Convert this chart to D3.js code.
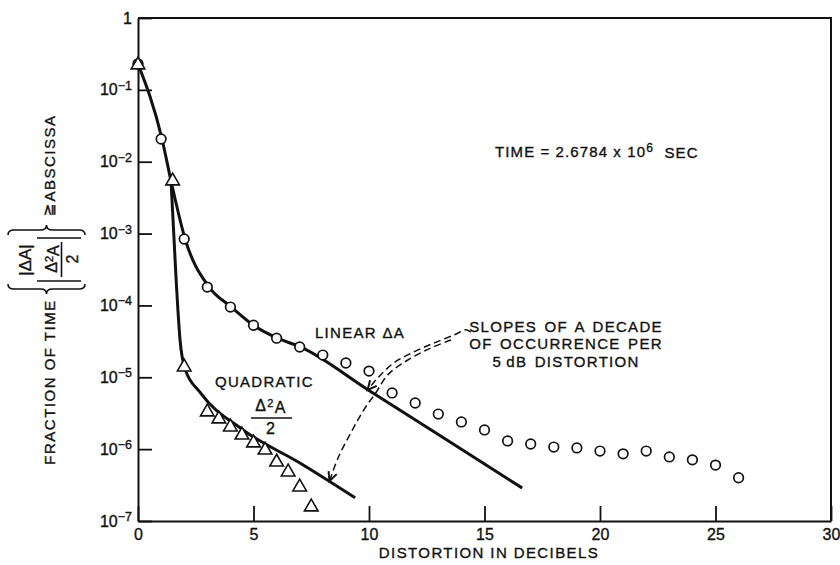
<!DOCTYPE html>
<html><head><meta charset="utf-8">
<script src="https://cdn.jsdelivr.net/npm/d3@7"></script>
<style>
html,body{margin:0;padding:0;background:#fff;}
svg{display:block;font-family:"Liberation Sans",Arial,Helvetica,sans-serif;}
svg text{stroke:#111;stroke-width:0.35px;}
</style></head><body>
<svg id="chart" width="840" height="565"></svg>
<script>
// ---------- data ----------
const xTickValues = [0, 5, 10, 15, 20, 25, 30];
const yTickValues = [1, 1e-1, 1e-2, 1e-3, 1e-4, 1e-5, 1e-6, 1e-7];

// measured points: LINEAR ΔA (circles)
const linearX = [0, 1, 2, 3, 4, 5, 6, 7, 8, 9, 10, 11, 12, 13, 14, 15, 16, 17, 18, 19, 20, 21, 22, 23, 24, 25, 26];
const linearY = [0.23, 0.0207, 8.4e-4, 1.8e-4, 9.5e-5, 5.3e-5, 3.5e-5, 2.64e-5, 2.04e-5, 1.58e-5, 1.22e-5,
                 6.05e-6, 4.39e-6, 3.08e-6, 2.39e-6, 1.85e-6, 1.3e-6, 1.18e-6, 1.07e-6, 1.04e-6, 9.4e-7,
                 8.6e-7, 9.4e-7, 7.8e-7, 7.1e-7, 6.0e-7, 4.0e-7];

// measured points: QUADRATIC Δ²A/2 (triangles)
const quadX = [0, 1.5, 2, 3, 3.5, 4, 4.5, 5, 5.5, 6, 6.5, 7, 7.5];
const quadY = [0.222, 5.4e-3, 1.39e-5, 3.29e-6, 2.63e-6, 2.03e-6, 1.57e-6, 1.22e-6, 9.7e-7, 6.6e-7, 4.8e-7, 2.97e-7, 1.57e-7];

// fitted curves (solid lines)
const linearFitX = [0, 1.04, 1.43, 2.04, 3.08, 4.04, 5.0, 6.04, 7.03, 10, 13, 16.63];
const linearFitY = [0.23, 0.0207, 5.4e-3, 8.4e-4, 1.8e-4, 9.5e-5, 5.3e-5, 3.5e-5, 2.64e-5, 6.55e-6, 1.6e-6, 2.88e-7];
const quadFitX = [1.43, 1.65, 1.82, 2.04, 2.68, 4.55, 7.01, 9.4];
const quadFitY = [5.4e-3, 2.3e-4, 3.3e-5, 1.3e-5, 6.2e-6, 1.85e-6, 6.4e-7, 2.1e-7];

// dashed annotation arrows (data units)
const arrowLinearX = [14.4, 14.2, 13.68, 12.81, 11.94, 11.07, 10.38, 9.94];
const arrowLinearY = [4.25e-5, 4.6e-5, 3.88e-5, 3.0e-5, 2.25e-5, 1.58e-5, 9.8e-6, 6.65e-6];
const arrowQuadX = [13.55, 12.68, 11.68, 10.81, 10.29, 9.77, 9.21, 8.68, 8.29];
const arrowQuadY = [3.3e-5, 2.56e-5, 1.74e-5, 1.08e-5, 6.05e-6, 3.5e-6, 1.68e-6, 7.8e-7, 3.6e-7];

// ---------- drawing ----------
const svg = d3.select("#chart");
const ink = "#111";
const x = d3.scaleLinear().domain([0, 30]).range([138, 831]);
const y = d3.scaleLog().domain([1e-7, 1]).range([521, 18]);

// frame (top & right)
svg.append("path")
  .attr("d", `M${x(0)},${y(1)}H${x(30)}V${y(1e-7)}`)
  .attr("fill", "none").attr("stroke", ink).attr("stroke-width", 2);

// x axis
const gx = svg.append("g").attr("transform", `translate(0,${y(1e-7)})`)
  .call(d3.axisBottom(x).tickValues(xTickValues).tickSizeInner(-15).tickSizeOuter(0)
        .tickPadding(8).tickFormat(d3.format("d")));
gx.select(".domain").attr("stroke", ink).attr("stroke-width", 2);
gx.selectAll(".tick line").attr("stroke", ink).attr("stroke-width", 1.8);
gx.selectAll(".tick text").attr("font-size", 16).attr("fill", ink).attr("font-family", null);

// y axis
const gy = svg.append("g").attr("transform", `translate(${x(0)},0)`)
  .call(d3.axisLeft(y).tickValues(yTickValues).tickSizeInner(-14).tickSizeOuter(0)
        .tickPadding(6).tickFormat(() => ""));
gy.select(".domain").attr("stroke", ink).attr("stroke-width", 2);
gy.selectAll(".tick line").attr("stroke", ink).attr("stroke-width", 1.8);
gy.selectAll(".tick text").attr("font-size", 16).attr("fill", ink).attr("font-family", null)
  .each(function (d) {
    const e = Math.round(Math.log10(d));
    const t = d3.select(this);
    if (e === 0) { t.text("1"); return; }
    t.append("tspan").text("10");
    t.append("tspan").attr("dy", "-0.45em").attr("font-size", 12.5).text("\u2212" + (-e));
  });

// axis title x
svg.append("text").attr("x", 489).attr("y", 558).attr("text-anchor", "middle")
  .attr("font-size", 15).attr("letter-spacing", "1.4px").attr("fill", ink)
  .text("DISTORTION IN DECIBELS");

// y axis title (rotated, composite)
const yl = svg.append("g").attr("transform", "rotate(-90)").attr("fill", ink);
yl.append("text").attr("x", -382).attr("y", 55).attr("text-anchor", "middle")
  .attr("font-size", 15).attr("letter-spacing", "1.5px").text("FRACTION OF TIME");
yl.append("text").attr("x", -158).attr("y", 55).attr("text-anchor", "middle")
  .attr("font-size", 15).attr("letter-spacing", "1.5px").text("ABSCISSA");
yl.append("text").attr("x", -210).attr("y", 54).attr("text-anchor", "middle")
  .attr("font-size", 15).attr("font-family", "DejaVu Sans").text("\u2267");
yl.append("text").attr("x", -260).attr("y", 31).attr("text-anchor", "middle")
  .attr("font-size", 17).text("|\u0394A|");
const dl = yl.append("text").attr("x", -259).attr("y", 57).attr("text-anchor", "middle").attr("font-size", 16);
dl.append("tspan").text("\u0394");
dl.append("tspan").attr("dy", "-0.4em").attr("font-size", 11).text("2");
dl.append("tspan").attr("dy", "0.4em").text("A");
yl.append("line").attr("x1", -277).attr("x2", -242).attr("y1", 61.5).attr("y2", 61.5)
  .attr("stroke", ink).attr("stroke-width", 1.6);
yl.append("text").attr("x", -259).attr("y", 78).attr("text-anchor", "middle")
  .attr("font-size", 16).text("2");
[-238, -281].forEach(v => yl.append("line").attr("x1", v).attr("x2", v).attr("y1", 37).attr("y2", 81)
  .attr("stroke", ink).attr("stroke-width", 1.6));
function bracePath(base, dir, a, b, h, r) {
  const m = (a + b) / 2, o = k => base + dir * k;
  return `M${o(0)},${a}Q${o(h)},${a} ${o(h)},${a + r}L${o(h)},${m - r}Q${o(h)},${m} ${o(2 * h)},${m}` +
         `Q${o(h)},${m} ${o(h)},${m + r}L${o(h)},${b - r}Q${o(h)},${b} ${o(0)},${b}`;
}
yl.append("path").attr("d", bracePath(-235, 1, 8, 85, 5, 6))
  .attr("fill", "none").attr("stroke", ink).attr("stroke-width", 1.6);
yl.append("path").attr("d", bracePath(-284, -1, 8, 85, 5, 6))
  .attr("fill", "none").attr("stroke", ink).attr("stroke-width", 1.6);

// fitted curves
const lineGen = d3.line().x(d => x(d[0])).y(d => y(d[1])).curve(d3.curveMonotoneX);
svg.append("path").datum(d3.zip(linearFitX, linearFitY)).attr("d", lineGen)
  .attr("fill", "none").attr("stroke", ink).attr("stroke-width", 3);
svg.append("path").datum(d3.zip(quadFitX, quadFitY)).attr("d", lineGen)
  .attr("fill", "none").attr("stroke", ink).attr("stroke-width", 3);

// dashed arrows
const dashGen = d3.line().x(d => x(d[0])).y(d => y(d[1])).curve(d3.curveCatmullRom);
function arrow(xs, ys) {
  const pts = d3.zip(xs, ys);
  svg.append("path").datum(pts).attr("d", dashGen)
    .attr("fill", "none").attr("stroke", ink).attr("stroke-width", 1.5).attr("stroke-dasharray", "7,4");
  const p1 = pts[pts.length - 2], p2 = pts[pts.length - 1];
  const X1 = x(p1[0]), Y1 = y(p1[1]), X2 = x(p2[0]), Y2 = y(p2[1]);
  const ang = Math.atan2(Y2 - Y1, X2 - X1), L = 10, s = 0.45;
  const a1 = [X2 - L * Math.cos(ang - s), Y2 - L * Math.sin(ang - s)];
  const a2 = [X2 - L * Math.cos(ang + s), Y2 - L * Math.sin(ang + s)];
  svg.append("path").attr("d", `M${a1}L${X2},${Y2}L${a2}`)
    .attr("fill", "none").attr("stroke", ink).attr("stroke-width", 2);
}
arrow(arrowLinearX, arrowLinearY);
arrow(arrowQuadX, arrowQuadY);

// markers: circles
svg.append("g").selectAll("circle").data(d3.zip(linearX, linearY)).join("circle")
  .attr("cx", d => x(d[0])).attr("cy", d => y(d[1])).attr("r", 4.8)
  .attr("fill", "#fff").attr("stroke", ink).attr("stroke-width", 1.7);
// markers: triangles
const tri = d3.symbol().type(d3.symbolTriangle).size(80);
svg.append("g").selectAll("path").data(d3.zip(quadX, quadY)).join("path")
  .attr("d", tri).attr("transform", d => `translate(${x(d[0])},${y(d[1])})`)
  .attr("fill", "#fff").attr("stroke", ink).attr("stroke-width", 1.6);

// annotations
const ann = svg.append("g").attr("fill", ink).attr("font-size", 15).attr("letter-spacing", "1.3px");
const t1 = ann.append("text").attr("x", 495).attr("y", 157).attr("letter-spacing", "1.1px");
t1.append("tspan").text("TIME = 2.6784 x 10");
t1.append("tspan").attr("dy", "-0.45em").attr("font-size", 12).text("6");
t1.append("tspan").attr("dy", "0.45em").text("\u00A0 SEC");
ann.append("text").attr("x", x(7.66)).attr("y", y(3.52e-5)).text("LINEAR \u0394A");
ann.append("text").attr("x", x(3.33)).attr("y", y(7.33e-6)).text("QUADRATIC");
const fx = x(5.76), fy = y(3.4e-6);
const fq = ann.append("text").attr("x", fx).attr("y", fy).attr("text-anchor", "middle").attr("font-size", 16);
fq.append("tspan").text("\u0394");
fq.append("tspan").attr("dy", "-0.4em").attr("font-size", 11).text("2");
fq.append("tspan").attr("dy", "0.4em").text("A");
ann.append("line").attr("x1", fx - 20).attr("x2", fx + 21).attr("y1", fy + 7).attr("y2", fy + 7)
  .attr("stroke", ink).attr("stroke-width", 1.5);
ann.append("text").attr("x", fx).attr("y", fy + 23).attr("text-anchor", "middle").attr("font-size", 16).text("2");
const sx = x(18.53), sy = y(4.27e-5);
["SLOPES OF A DECADE", "OF OCCURRENCE PER", "5\u2009dB DISTORTION"].forEach((s, i) =>
  ann.append("text").attr("x", sx).attr("y", sy + i * 17.5).attr("text-anchor", "middle")
    .attr("word-spacing", "2px").text(s));
</script>
</body></html>
